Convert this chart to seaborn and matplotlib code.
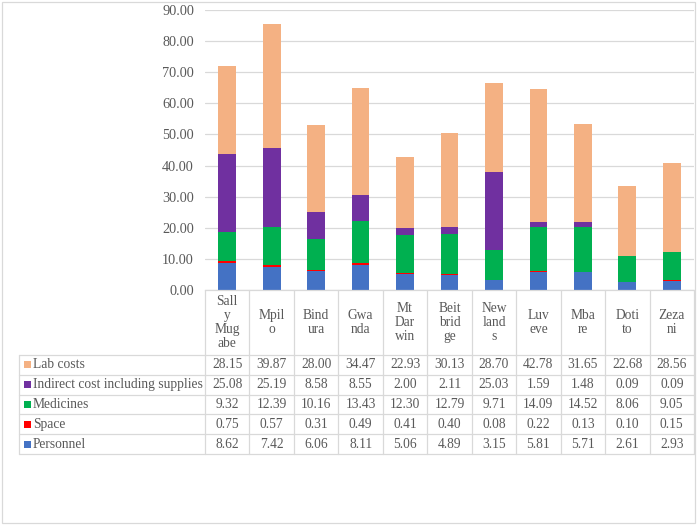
import numpy as np
import pandas as pd
import matplotlib
matplotlib.use("Agg")
import matplotlib.pyplot as plt
import matplotlib.transforms as mtransforms
from matplotlib.patches import Rectangle
from matplotlib.lines import Line2D
import seaborn as sns

# data
sites = ["Sally Mugabe", "Mpilo", "Bindura", "Gwanda", "Mt Darwin", "Beitbridge",
         "Newlands", "Luveve", "Mbare", "Doti to", "Zezani"]
site_labels = ["Sall\ny\nMug\nabe", "Mpil\no", "Bind\nura", "Gwa\nnda", "Mt\nDar\nwin",
               "Beit\nbrid\nge", "New\nland\ns", "Luv\neve", "Mba\nre", "Doti\nto", "Zeza\nni"]
series_names = ["Lab costs", "Indirect cost including supplies", "Medicines", "Space", "Personnel"]
lab_costs = [28.15, 39.87, 28.00, 34.47, 22.93, 30.13, 28.70, 42.78, 31.65, 22.68, 28.56]
indirect = [25.08, 25.19, 8.58, 8.55, 2.00, 2.11, 25.03, 1.59, 1.48, 0.09, 0.09]
medicines = [9.32, 12.39, 10.16, 13.43, 12.30, 12.79, 9.71, 14.09, 14.52, 8.06, 9.05]
space = [0.75, 0.57, 0.31, 0.49, 0.41, 0.40, 0.08, 0.22, 0.13, 0.10, 0.15]
personnel = [8.62, 7.42, 6.06, 8.11, 5.06, 4.89, 3.15, 5.81, 5.71, 2.61, 2.93]
colors = ["#F4B183", "#7030A0", "#00B050", "#FF0000", "#4472C4"]
y_ticks = [0, 10, 20, 30, 40, 50, 60, 70, 80, 90]

df = pd.DataFrame({"site": sites, "Lab costs": lab_costs,
                   "Indirect cost including supplies": indirect,
                   "Medicines": medicines, "Space": space, "Personnel": personnel})

sns.set_style("white")
plt.rcParams["font.family"] = ["Liberation Serif", "DejaVu Serif"]
TXT = "#595959"
GRID = "#D9D9D9"
FS = 9.75

W, H = 698, 526
fig = plt.figure(figsize=(W / 100, H / 100), dpi=100)

def fx(px):
    return px / W

def fy(py):
    return 1 - py / H

# plot area (pixel box: x 205..694, y 10..290)
ax = fig.add_axes([fx(205), fy(290), fx(694) - fx(205), (290 - 10) / H])

# stacked bars, bottom series first
bottom = np.zeros(len(sites))
for name, col in zip(reversed(series_names), reversed(colors)):
    sns.barplot(data=df, x="site", y=name, order=sites, color=col, width=0.4,
                bottom=bottom, ax=ax, saturation=1, edgecolor="none", linewidth=0)
    bottom = bottom + df[name].values

ax.set_xlim(-0.5, len(sites) - 0.5)
ax.set_ylim(0, 90)
ax.set_yticks(y_ticks)
ax.set_yticklabels([f"{v:.2f}" for v in y_ticks], color=TXT, fontsize=FS + 0.5)
ax.set_xticks([])
ax.set_xlabel("")
ax.set_ylabel("")
ax.tick_params(axis="y", length=0, pad=8)
ax.yaxis.grid(True, color=GRID, linewidth=0.9)
ax.set_axisbelow(True)
for s in ["top", "right", "left"]:
    ax.spines[s].set_visible(False)
ax.spines["bottom"].set_color(GRID)
ax.spines["bottom"].set_linewidth(0.9)

# data table below the bars
trans = mtransforms.blended_transform_factory(ax.transData, fig.transFigure)
n = len(sites)
header_top, header_bot = 290, 355
row_h = 19.8
row_edges = [header_bot + i * row_h for i in range(len(series_names) + 1)]
table_left = 19

def hline(y, x0px, x1px):
    fig.add_artist(Line2D([fx(x0px), fx(x1px)], [fy(y), fy(y)], color=GRID, lw=0.9,
                          transform=fig.transFigure))

# vertical borders between categories
for i in range(n + 1):
    xb = i - 0.5
    fig.add_artist(Line2D([xb, xb], [fy(header_top), fy(row_edges[-1])], color=GRID,
                          lw=0.9, transform=trans))
fig.add_artist(Line2D([fx(table_left), fx(table_left)], [fy(row_edges[0]), fy(row_edges[-1])],
                      color=GRID, lw=0.9, transform=fig.transFigure))
for y in row_edges:
    hline(y, table_left, 694)

# header labels
for i, lab in enumerate(site_labels):
    fig.text(i, fy((header_top + header_bot) / 2), lab, transform=trans, ha="center",
             va="center", fontsize=FS, color=TXT, linespacing=1.12)

# rows
values = [lab_costs, indirect, medicines, space, personnel]
for r, (name, col, vals) in enumerate(zip(series_names, colors, values)):
    yc = (row_edges[r] + row_edges[r + 1]) / 2
    fig.add_artist(Rectangle((fx(24), fy(yc + 3.5)), 7 / W, 7 / H, facecolor=col,
                             edgecolor="none", transform=fig.transFigure))
    fig.text(fx(33), fy(yc), name, ha="left", va="center", fontsize=FS, color=TXT)
    for i, v in enumerate(vals):
        fig.text(i, fy(yc), f"{v:.2f}", transform=trans, ha="center", va="center",
                 fontsize=FS, color=TXT)

# outer chart frame
fig.add_artist(Rectangle((fx(2), fy(523)), (695 - 2) / W, (523 - 2) / H, fill=False,
                         edgecolor=GRID, lw=0.9, transform=fig.transFigure))

fig.savefig("out.png", dpi=100)
